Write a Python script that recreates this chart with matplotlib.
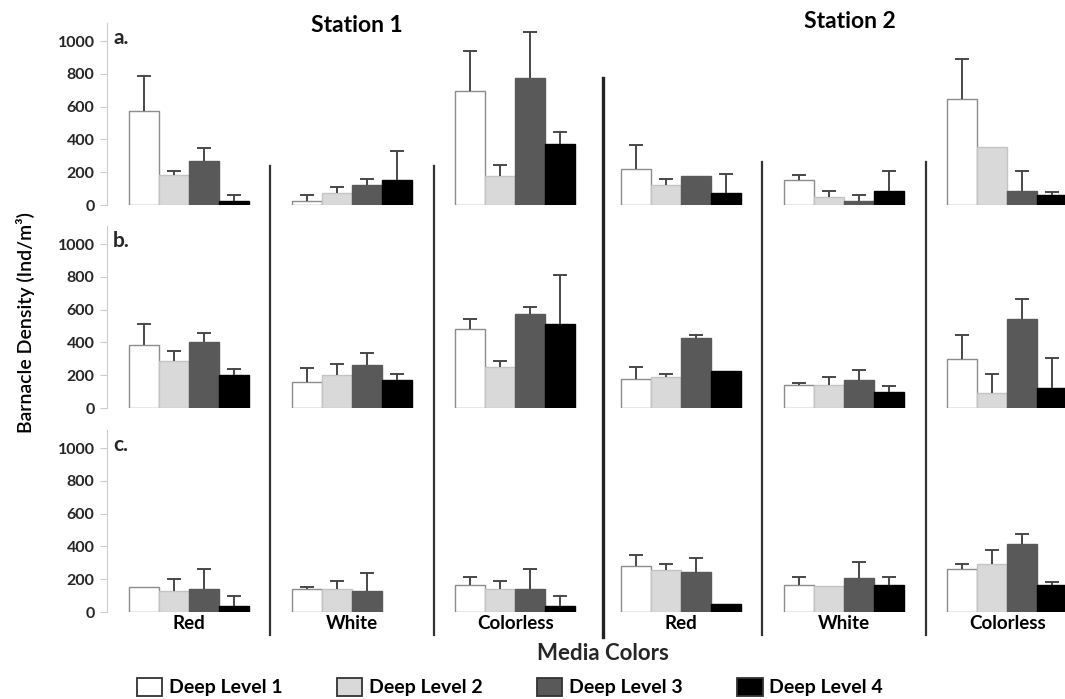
"""
    Grouped bar chart of barnacle density by media colour, depth level and station.
"""
import matplotlib
matplotlib.use("Agg")
import matplotlib.pyplot as plt
import matplotlib.patches as mpatches
import matplotlib.lines as mlines
from matplotlib.transforms import blended_transform_factory
import numpy as np

plt.rcParams['font.family'] = ['Lato', 'DejaVu Sans']

MEDIA = ['Red', 'White', 'Colorless']
LEVELS = ['Deep Level 1', 'Deep Level 2', 'Deep Level 3', 'Deep Level 4']
PANELS = ['a.', 'b.', 'c.']

# rows = deep level 1..4, columns = Red, White, Colorless
A_ST1_MEAN = [[575, 25, 695], [185, 75, 175], [270, 125, 775], [25, 150, 375]]
A_ST1_ERR = [[210, 35, 245], [25, 35, 70], [80, 35, 280], [35, 180, 70]]
A_ST2_MEAN = [[220, 150, 645], [125, 50, 355], [175, 25, 85], [75, 85, 60]]
A_ST2_ERR = [[145, 35, 245], [35, 35, 0], [0, 35, 120], [115, 120, 20]]

B_ST1_MEAN = [[385, 160, 480], [285, 200, 250], [400, 265, 575], [200, 170, 510]]
B_ST1_ERR = [[125, 85, 60], [60, 70, 35], [55, 70, 40], [35, 40, 300]]
B_ST2_MEAN = [[175, 140, 300], [190, 140, 90], [425, 170, 545], [225, 100, 125]]
B_ST2_ERR = [[75, 15, 145], [18, 50, 120], [18, 60, 120], [0, 37, 180]]

C_ST1_MEAN = [[155, 140, 165], [130, 140, 140], [140, 130, 140], [35, 0, 35]]
C_ST1_ERR = [[0, 15, 50], [70, 50, 50], [125, 110, 125], [60, 0, 60]]
C_ST2_MEAN = [[280, 165, 265], [255, 160, 290], [245, 205, 415], [50, 165, 165]]
C_ST2_ERR = [[70, 50, 25], [35, 0, 88], [85, 100, 58], [0, 50, 17]]

Y_TICKS = [0, 200, 400, 600, 800, 1000]

FILLS = ['white', '#d9d9d9', '#595959', 'black']
EDGES = ['#8c8c8c', '#c4c4c4', '#595959', 'black']
BAR_W = 0.184
TEXT_COL = '#262626'

W, H = 1065, 699


def px_box(left, right, top, bottom):
    """Axes rectangle from pixel edges."""
    return [left / W, 1 - bottom / H, (right - left) / W, (bottom - top) / H]


def draw_groups(ax, means, errs):
    """Draw the four depth-level series for the three media colours."""
    x = np.arange(len(MEDIA))
    for i in range(len(LEVELS)):
        mean = np.array(means[i], dtype=float)
        err = np.array(errs[i], dtype=float)
        xs = x + (i - 1.5) * BAR_W
        has_bar = mean > 0
        ax.bar(xs[has_bar], mean[has_bar], BAR_W, color=FILLS[i],
               edgecolor=EDGES[i], linewidth=1, zorder=2)
        has_err = err > 0
        _, caps, _ = ax.errorbar(xs[has_err], mean[has_err],
                                 yerr=[np.zeros(has_err.sum()), err[has_err]],
                                 fmt='none', ecolor='#474747', elinewidth=1.4,
                                 capsize=5, capthick=1.4, zorder=3)
        # only the upper cap is shown
        if caps:
            caps[0].set_visible(False)
    ax.set_xlim(-0.5, 2.5)
    ax.set_ylim(0, 1110)
    for side in ['top', 'right', 'bottom', 'left']:
        ax.spines[side].set_visible(False)
    ax.set_xticks([])


def main():
    fig = plt.figure(figsize=(W / 100, H / 100), dpi=100)

    data = [(A_ST1_MEAN, A_ST1_ERR, A_ST2_MEAN, A_ST2_ERR),
            (B_ST1_MEAN, B_ST1_ERR, B_ST2_MEAN, B_ST2_ERR),
            (C_ST1_MEAN, C_ST1_ERR, C_ST2_MEAN, C_ST2_ERR)]
    bases = [205, 408, 612]

    axes1, axes2 = [], []
    for row, (m1, e1, m2, e2) in enumerate(data):
        base = bases[row]
        ax1 = fig.add_axes(px_box(107, 597, base - 182, base))
        ax2 = fig.add_axes(px_box(599, 1089, base - 182, base))
        draw_groups(ax1, m1, e1)
        draw_groups(ax2, m2, e2)

        ax1.spines['left'].set_visible(True)
        ax1.spines['left'].set_color('#cccccc')
        ax1.set_yticks(Y_TICKS)
        ax1.tick_params(axis='y', length=5, color='#cccccc', labelsize=11.5,
                        labelcolor=TEXT_COL, pad=4)
        for lab in ax1.get_yticklabels():
            lab.set_fontweight('bold')
        ax2.set_yticks([])

        ax1.text(6 / 490, 1 - 15 / 182, PANELS[row], transform=ax1.transAxes,
                 fontsize=15, fontweight='bold', color=TEXT_COL, va='center')
        axes1.append(ax1)
        axes2.append(ax2)

    for ax in (axes1[-1], axes2[-1]):
        ax.set_xticks(np.arange(len(MEDIA)))
        ax.set_xticklabels(MEDIA, fontsize=13.5, fontweight='bold', color='black')
        ax.tick_params(axis='x', length=0, pad=2)

    # vertical separators running through all three panels
    for ax, top in ((axes1[-1], 166), (axes2[-1], 162)):
        trans = blended_transform_factory(ax.transData, fig.transFigure)
        for xs in (0.5, 1.5):
            fig.add_artist(mlines.Line2D([xs, xs], [1 - top / H, 1 - 635 / H],
                                        transform=trans, color='#333333', lw=1.6))
    trans = blended_transform_factory(axes2[-1].transData, fig.transFigure)
    fig.add_artist(mlines.Line2D([-0.475, -0.475], [1 - 78 / H, 1 - 637 / H],
                                 transform=trans, color='#222222', lw=2.4))

    fig.text(357 / W, 1 - 26 / H, 'Station 1', ha='center', va='center',
             fontsize=16.5, fontweight='bold', color='black')
    fig.text(850 / W, 1 - 21 / H, 'Station 2', ha='center', va='center',
             fontsize=16.5, fontweight='bold', color='black')
    fig.text(603 / W, 1 - 653 / H, 'Media Colors', ha='center', va='center',
             fontsize=16, fontweight='bold', color=TEXT_COL)
    fig.text(26 / W, 1 - 323 / H, 'Barnacle Density (Ind/m³)', rotation=90,
             ha='center', va='center', fontsize=14, fontweight='semibold',
             color='black')

    handles = [mpatches.Patch(facecolor=FILLS[i], edgecolor='#333333',
                              linewidth=1.3, label=LEVELS[i])
               for i in range(len(LEVELS))]
    fig.legend(handles=handles, loc='center', bbox_to_anchor=(510 / W, 1 - 687 / H),
               ncol=4, frameon=False, handlelength=1.3, handleheight=1.05,
               handletextpad=0.35, columnspacing=2.8,
               prop={'weight': 'bold', 'size': 14})

    fig.savefig('out.png', dpi=100)


if __name__ == "__main__":
    main()
